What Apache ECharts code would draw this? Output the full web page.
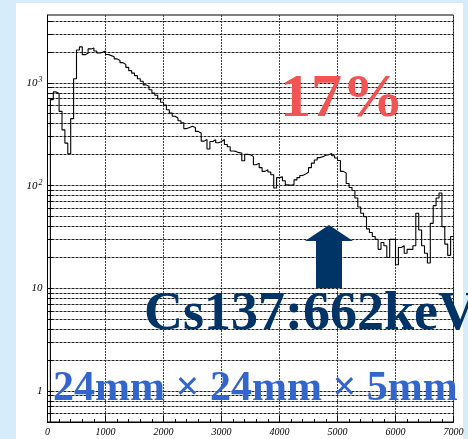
<!DOCTYPE html>
<html>
<head>
<meta charset="utf-8">
<script src="https://cdn.jsdelivr.net/npm/echarts@6/dist/echarts.min.js"></script>
<style>
  html, body { margin: 0; padding: 0; background: #d6ecfb; }
  #chart { width: 468px; height: 439px; }
</style>
</head>
<body>
<div id="chart"></div>
<script>
// Pulse-height spectrum, Cs137 source, 24mm x 24mm x 5mm crystal
const binWidth = 50;           // ADC channels per bin
const xMax = 7000;
const counts = [
  0, 690, 820, 790, 530, 350, 260, 205, 450, 1100, 2100, 2250,
  1890, 1950, 2150, 2190, 2050, 1960, 1990, 2050, 1900, 1850,
  1800, 1720, 1660, 1580, 1520, 1420, 1320, 1250, 1180, 1100,
  1040, 960, 930, 860, 800, 760, 700, 650, 610, 550,
  510, 475, 456, 430, 410, 360, 370, 380, 370, 338,
  326, 272, 282, 228, 270, 280, 262, 270, 282, 252,
  240, 218, 216, 210, 208, 175, 202, 200, 192, 160,
  166, 150, 138, 143, 136, 128, 95, 120, 122, 112,
  102, 101, 103, 114, 120, 126, 130, 135, 150, 166,
  178, 188, 192, 198, 200, 206, 196, 186, 176, 138,
  133, 105, 96, 90, 76, 62, 54, 50, 38, 35,
  32, 30, 24, 28, 26, 20, 30, 30, 17, 25,
  26, 22, 24, 24, 26, 54, 37, 26, 22, 17.7,
  43, 64, 76, 85, 40, 27, 21, 32
];
// horizontal grid lines of the log axis (1..9 per decade)
const gridValues = [
  0.6, 0.7, 0.8, 0.9,
  1, 2, 3, 4, 5, 6, 7, 8, 9,
  10, 20, 30, 40, 50, 60, 70, 80, 90,
  100, 200, 300, 400, 500, 600, 700, 800, 900,
  1000, 2000, 3000, 4000
];
const yMin = 0.5, yMax = 4600;
const majorTicks = { 1: '1', 10: '10', 100: '10{sup|2}', 1000: '10{sup|3}' };

const titleRate = '17%';
const titleSource = 'Cs137:662keV';
const titleSize = '24mm × 24mm × 5mm';

// empty bins sit below the axis floor on the log scale
const floorValue = 0.1;
const histData = counts.map((c, i) => [i * binWidth, c > 0 ? c : floorValue]);
histData.push([counts.length * binWidth, counts[counts.length - 1]]);

const serif = '"Liberation Serif", "Times New Roman", serif';

const chart = echarts.init(document.getElementById('chart'), null, { renderer: 'canvas' });

function crisp(v) { return Math.round(v - 0.5) + 0.5; }

chart.setOption({
  backgroundColor: '#d6ecfb',
  animation: false,
  grid: {
    left: 47.5, right: 14.5, top: 15, bottom: 17,
    show: true, borderColor: '#000', borderWidth: 1, backgroundColor: '#fff'
  },
  xAxis: {
    type: 'value', min: 0, max: xMax, interval: 1000,
    axisLine: { show: true, lineStyle: { color: '#000', width: 1 } },
    axisTick: { show: true, inside: true, length: 6, lineStyle: { color: '#000' } },
    minorTick: { show: true, splitNumber: 5, length: 3, lineStyle: { color: '#000' } },
    splitLine: { show: true, lineStyle: { color: '#444', type: [2, 1], width: 1 } },
    axisLabel: {
      color: '#000', fontFamily: serif, fontStyle: 'italic', fontSize: 10, margin: 5,
      showMinLabel: true, showMaxLabel: true,
      formatter: v => String(v)
    }
  },
  yAxis: {
    type: 'log', logBase: 10, min: yMin, max: yMax,
    axisLine: { show: true, lineStyle: { color: '#000', width: 1 } },
    axisTick: { show: false },
    splitLine: { show: false },
    axisLabel: {
      showMinLabel: false, showMaxLabel: false, margin: 5,
      color: '#000', fontFamily: serif, fontStyle: 'italic', fontSize: 11,
      formatter: v => {
        const key = Math.round(v);
        return majorTicks[key] !== undefined && Math.abs(v - key) < 1e-6 ? majorTicks[key] : '';
      },
      rich: {
        sup: { fontFamily: serif, fontStyle: 'italic', fontSize: 8, verticalAlign: 'top', padding: [0, 0, 6, 1] }
      }
    }
  },
  series: [
    {
      // dashed horizontal grid with short inward ticks at the left edge
      type: 'custom',
      silent: true,
      z: 1,
      data: gridValues.map(v => [0, v]),
      renderItem: (params, api) => {
        const v = api.value(1);
        const p1 = api.coord([0, v]);
        const p2 = api.coord([xMax, v]);
        const y = crisp(p1[1]);
        return {
          type: 'group',
          children: [
            { type: 'line', shape: { x1: p1[0], y1: y, x2: p2[0], y2: y },
              style: { stroke: '#222', lineWidth: 1, lineDash: [3, 1] } },
            { type: 'line', shape: { x1: p1[0], y1: y, x2: p1[0] + 5, y2: y },
              style: { stroke: '#000', lineWidth: 1 } }
          ]
        };
      }
    },
    {
      type: 'line',
      step: 'end',
      data: histData,
      symbol: 'none',
      clip: true,
      silent: true,
      z: 3,
      lineStyle: { color: '#000', width: 1.1 }
    }
  ],
  graphic: [
    { type: 'rect', z: -10, silent: true,
      shape: { x: 16, y: 3, width: 447, height: 440 },
      style: { fill: '#ffffff' } },
    { type: 'text', z: 10, silent: true,
      style: { text: titleRate, x: 280, y: 100, verticalAlign: 'middle',
        font: 'bold 62px ' + serif, fill: '#f25353' } },
    { type: 'polygon', z: 10, silent: true,
      shape: { points: [[329, 225], [353, 241], [342, 241], [342, 288], [316, 288], [316, 241], [305, 241]] },
      style: { fill: '#003366' } },
    { type: 'text', z: 10, silent: true,
      style: { text: titleSource, x: 144, y: 315, verticalAlign: 'middle',
        font: 'bold 54px ' + serif, fill: '#003366' } },
    { type: 'text', z: 10, silent: true,
      style: { text: titleSize, x: 53, y: 389, verticalAlign: 'middle',
        font: 'bold 42px ' + serif, fill: '#3366cc' } }
  ]
});
</script>
</body>
</html>
